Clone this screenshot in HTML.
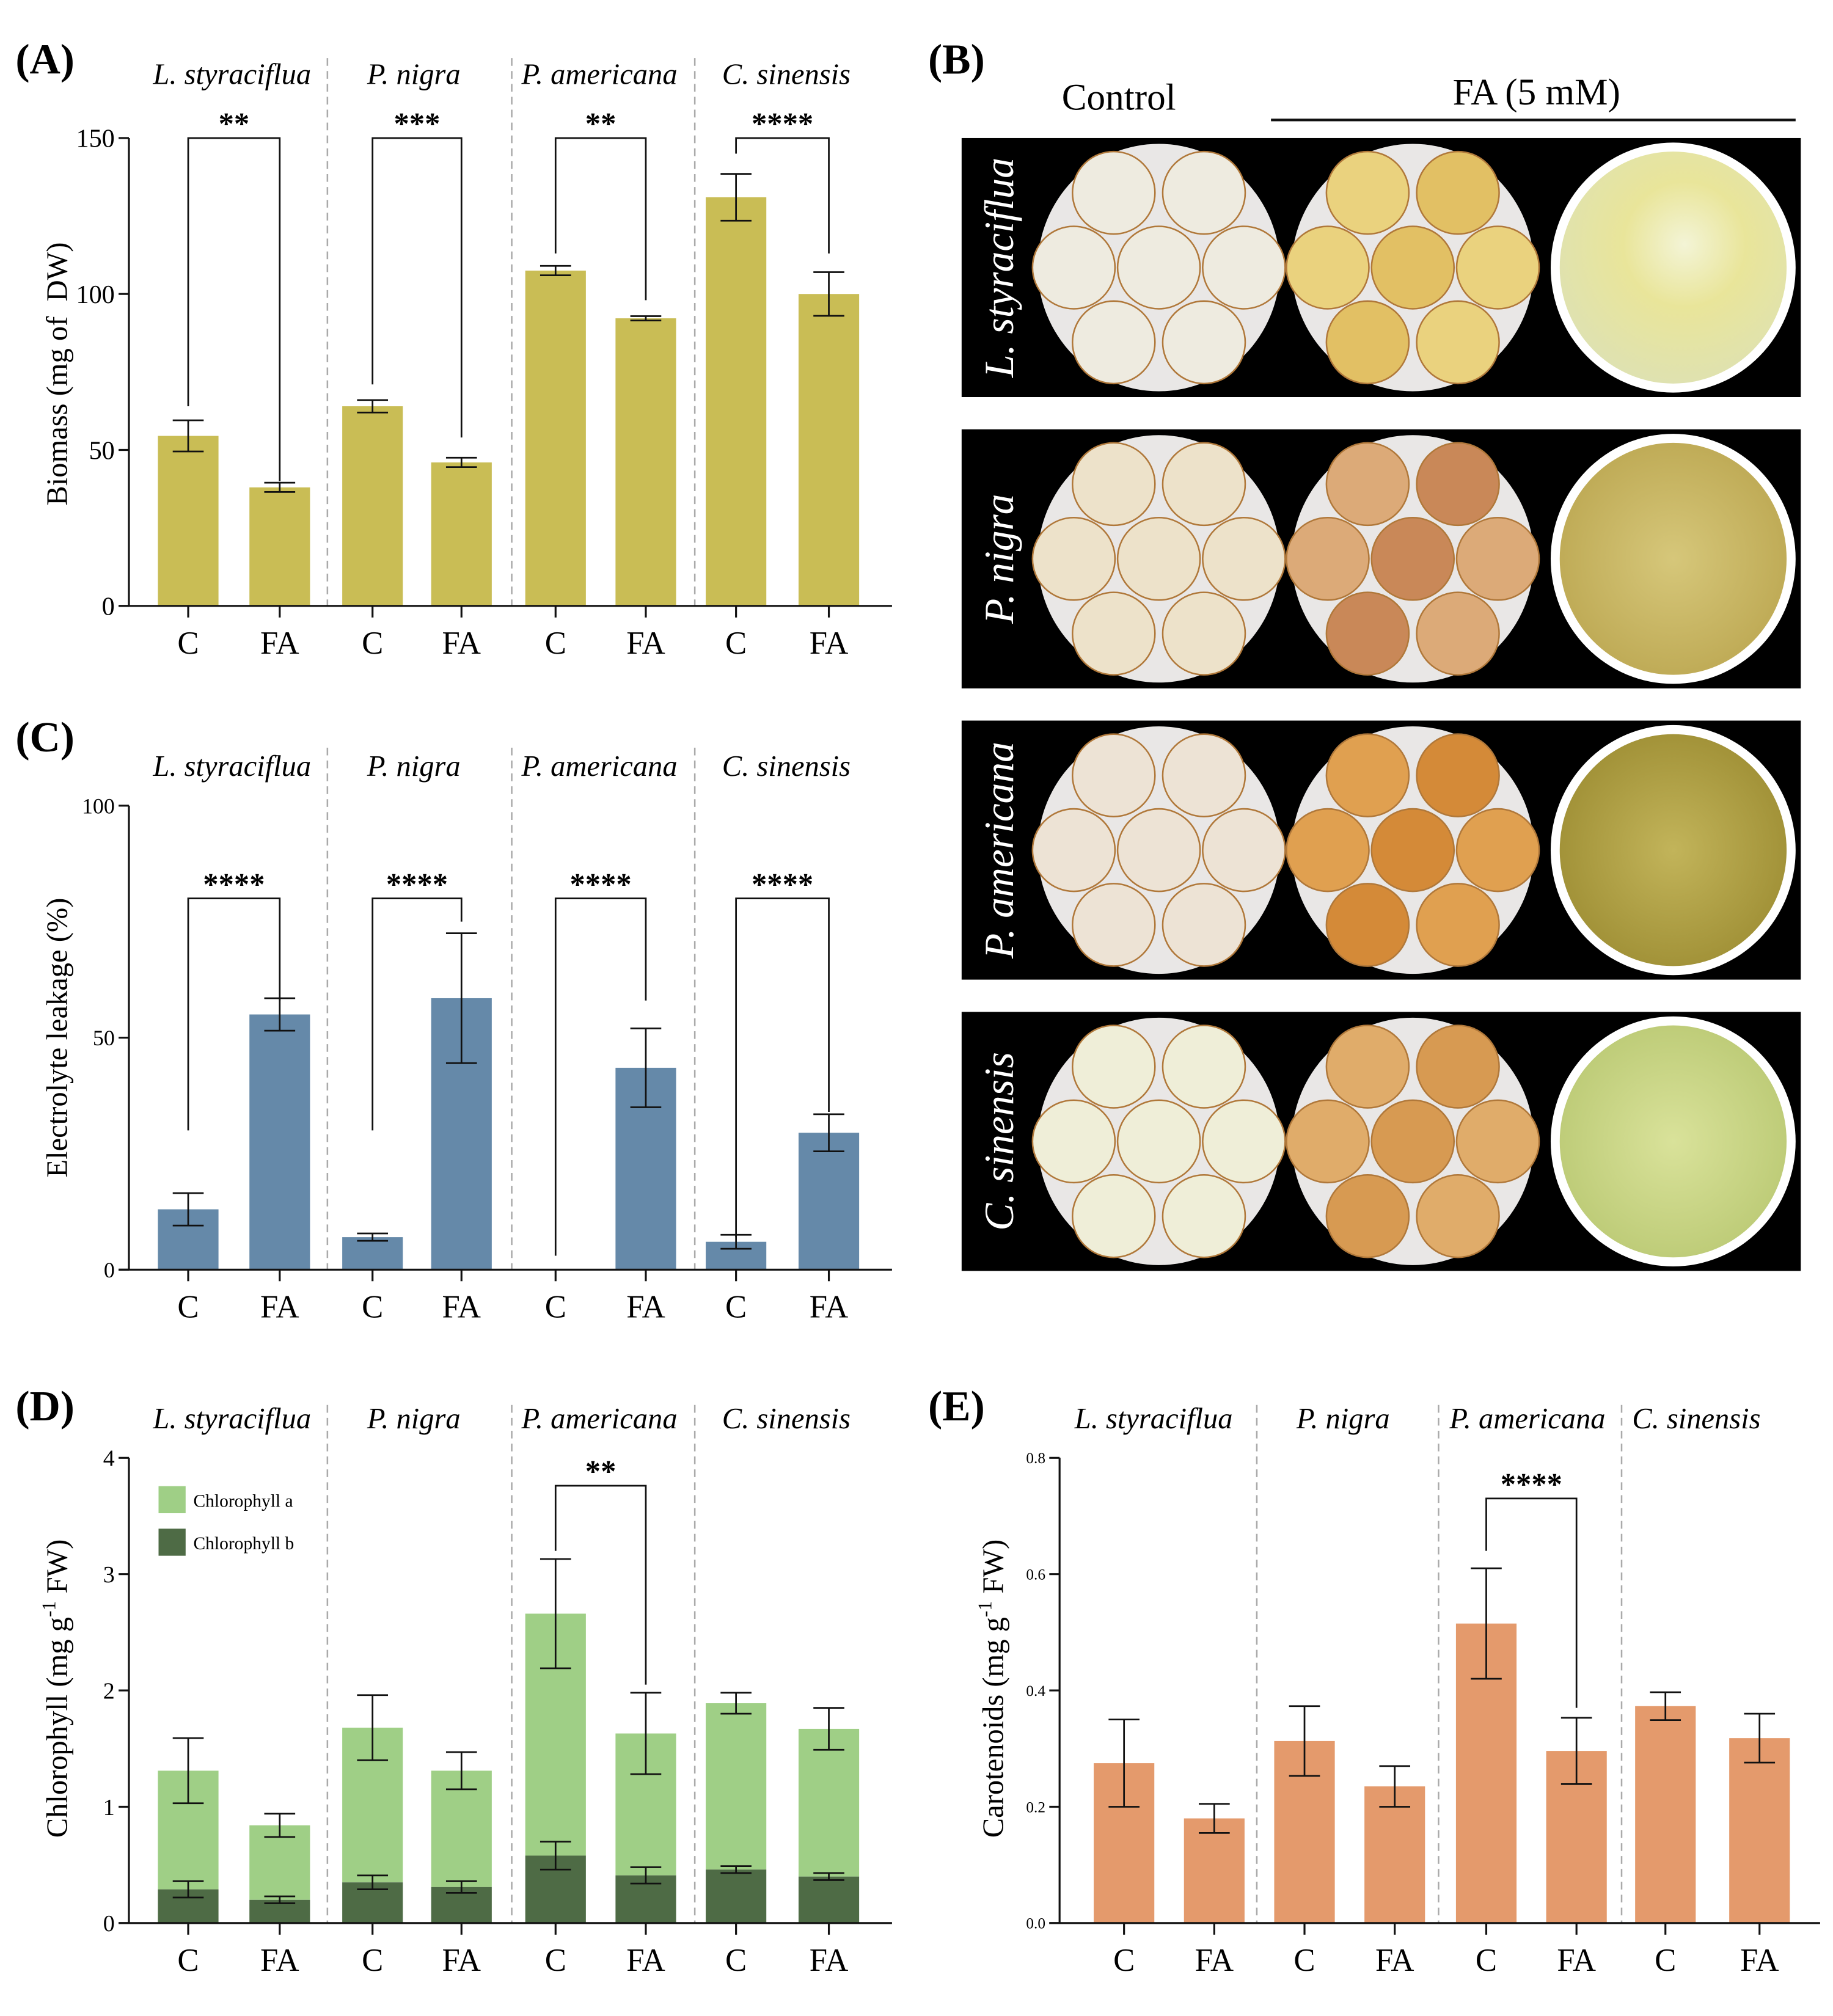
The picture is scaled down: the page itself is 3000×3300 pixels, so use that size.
<!DOCTYPE html>
<html><head><meta charset="utf-8"><style>
html,body{margin:0;padding:0;background:#fff}
svg{display:block}
text{font-family:"Liberation Serif",serif}
</style></head><body>
<svg id="fig" width="3000" height="3300" viewBox="0 0 1422 1564" xmlns="http://www.w3.org/2000/svg">
<defs>
<radialGradient id="leaf1" cx="0.55" cy="0.4" r="0.6"><stop offset="0" stop-color="#f3f4d6"/><stop offset="0.45" stop-color="#e9e59a"/><stop offset="1" stop-color="#dfe2b0"/></radialGradient>
<radialGradient id="leaf2" cx="0.5" cy="0.5" r="0.6"><stop offset="0" stop-color="#d6c77a"/><stop offset="1" stop-color="#bba650"/></radialGradient>
<radialGradient id="leaf3" cx="0.5" cy="0.5" r="0.6"><stop offset="0" stop-color="#c2b45a"/><stop offset="1" stop-color="#9c8c32"/></radialGradient>
<radialGradient id="leaf4" cx="0.5" cy="0.5" r="0.6"><stop offset="0" stop-color="#d9e29a"/><stop offset="1" stop-color="#b9c872"/></radialGradient>
</defs>
<g id="root"></g>
</svg>
<script>
const NS="http://www.w3.org/2000/svg";
const root=document.getElementById('root');
function mk(tag,attrs,parent,txt){const e=document.createElementNS(NS,tag);for(const k in attrs)e.setAttribute(k,attrs[k]);if(txt!==undefined)e.textContent=txt;(parent||root).appendChild(e);return e;}

// ---------- data ----------
const species=["L. styraciflua","P. nigra","P. americana","C. sinensis"];
const treatments=["C","FA","C","FA","C","FA","C","FA"];
const biomassVals=[54.5,38,64,46,107.5,92.2,131,100];
const biomassErr=[5,1.5,2,1.5,1.5,0.7,7.5,7];
const biomassTicks=[0,50,100,150];
const biomassStars=["**","***","**","****"];
const biomassLegs=[[64,40],[71,54],[113,98],[145,113]];
const leakVals=[13,55,7,58.5,0,43.5,6,29.5];
const leakErr=[3.5,3.5,0.8,14,0,8.5,1.5,4];
const leakTicks=[0,50,100];
const leakStars=["****","****","****","****"];
const leakLegs=[[30,58],[30,75],[3,58],[7,34]];
const chlTotal=[1.31,0.84,1.68,1.31,2.66,1.63,1.89,1.67];
const chlTotalErr=[0.28,0.1,0.28,0.16,0.47,0.35,0.09,0.18];
const chlB=[0.29,0.2,0.35,0.31,0.58,0.41,0.46,0.4];
const chlBErr=[0.07,0.03,0.06,0.05,0.12,0.07,0.03,0.03];
const chlTicks=[0,1,2,3,4];
const carVals=[0.275,0.18,0.313,0.235,0.515,0.296,0.373,0.318];
const carErr=[0.075,0.025,0.06,0.035,0.095,0.057,0.024,0.042];
const carTicks=["0.0","0.2","0.4","0.6","0.8"];

function panel(o){
  const g=mk('g',{});
  
  
  const X0=o.x0, X1=o.x1, top=o.top, zero=o.zero, max=o.max;
  const y=v=>zero-v/max*(zero-top);
  const slot=(X1-X0)/8.4;
  const cx=i=>X0+slot*(0.65+i)+ (i>=2?0:0);
  const centers=o.centers;
  // dividers
  o.divs.forEach((dx,i)=>{const l=mk('line',{x1:dx,x2:dx,y1:o.divTop,y2:zero,stroke:'#aaa','stroke-width':1.2,'stroke-dasharray':'6,4'},g);
    });
  // species labels
  species.forEach((s,i)=>{const t=mk('text',{x:o.spX[i],y:o.spY,'font-size':23,'font-style':'italic','text-anchor':'middle'},g,s);
    });
  // bars
  o.series.forEach(se=>{
    se.vals.forEach((v,i)=>{
      const base=se.base?se.base[i]:0;
      const r=mk('rect',{x:centers[i]-o.bw/2,y:y(v),width:o.bw,height:Math.max(0,y(base)-y(v)),fill:se.color},g);
      
    });
  });
  o.series.forEach(se=>{
    se.vals.forEach((v,i)=>{
      const e=se.err[i]; if(!e)return;
      const c=centers[i];
      const eg=mk('g',{stroke:'#111','stroke-width':1.3},g);
      
      mk('line',{x1:c,x2:c,y1:y(v+e),y2:y(v-e)},eg);
      mk('line',{x1:c-12,x2:c+12,y1:y(v+e),y2:y(v+e)},eg);
      mk('line',{x1:c-12,x2:c+12,y1:y(v-e),y2:y(v-e)},eg);
    });
  });
  // axes
  const ax=mk('g',{stroke:'#111','stroke-width':1.5},g);
  
  mk('line',{x1:X0,x2:X0,y1:top,y2:zero},ax);
  mk('line',{x1:X0-8,x2:X1,y1:zero,y2:zero},ax);
  o.ticks.forEach(t=>{const v=parseFloat(t);mk('line',{x1:X0-8,x2:X0,y1:y(v),y2:y(v)},ax);
    const tl=mk('text',{x:X0-11,y:y(v)+o.tickFs*0.35,'font-size':o.tickFs,'text-anchor':'end',stroke:'none'},g,t);
    });
  centers.forEach((c,i)=>{mk('line',{x1:c,x2:c,y1:zero,y2:zero+9},ax);
    const tl=mk('text',{x:c,y:zero+37,'font-size':25,'text-anchor':'middle'},g,treatments[i]);
    });
  // y title
  const yt=mk('text',{x:0,y:0,'font-size':23,'text-anchor':'middle',transform:`translate(${o.ytX},${o.ytY}) rotate(-90)`},g);
  yt.innerHTML=o.ytitle;
  
  // brackets
  (o.brackets||[]).forEach(b=>{
    const a=centers[b.i],c2=centers[b.i+1],by=y(b.top);
    const bg=mk('g',{},g);
    
    mk('polyline',{points:`${a},${y(b.l)} ${a},${by} ${c2},${by} ${c2},${y(b.r)}`,fill:'none',stroke:'#111','stroke-width':1.3},bg);
    mk('text',{x:(a+c2)/2,y:by-3,'font-size':24,'font-weight':'bold','text-anchor':'middle','font-family':'Liberation Sans, sans-serif'},bg,b.s);
  });
  // panel letter
  const pl=mk('text',{x:o.lx,y:o.ly,'font-size':33,'font-weight':'bold'},g,o.letter);
  
  return g;
}
const ctrA=[146,217,289,358,431,501,571,643];
const ctrE=[872,942,1012,1082,1153,1223,1292,1365];
const spA=[180,321,465,610], spE=[895,1042,1185,1316];

panel({name:'panel-a-biomass',x0:100,x1:692,top:107,zero:470,max:150,centers:ctrA,bw:47,divs:[254,397,539],divTop:45,
  spX:spA,spY:65,ticks:biomassTicks.map(String),tickFs:20,ytX:52,ytY:290,ytitle:'Biomass (mg of&#160; DW)',
  series:[{vals:biomassVals,err:biomassErr,color:'#c9bd55',barName:'biomass-bar'}],
  brackets:biomassStars.map((s,k)=>({i:2*k,top:150,l:biomassLegs[k][0],r:biomassLegs[k][1],s})),letter:'(A)',lx:12,ly:57});

panel({name:'panel-c-electrolyte-leakage',x0:100,x1:692,top:625,zero:985,max:100,centers:ctrA,bw:47,divs:[254,397,539],divTop:580,
  spX:spA,spY:602,ticks:leakTicks.map(String),tickFs:17,ytX:52,ytY:805,ytitle:'Electrolyte leakage (%)',
  series:[{vals:leakVals,err:leakErr,color:'#6589a9',barName:'leakage-bar'}],
  brackets:leakStars.map((s,k)=>({i:2*k,top:80,l:leakLegs[k][0],r:leakLegs[k][1],s})),letter:'(C)',lx:12,ly:583});

panel({name:'panel-d-chlorophyll',x0:100,x1:692,top:1131,zero:1492,max:4,centers:ctrA,bw:47,divs:[254,397,539],divTop:1090,
  spX:spA,spY:1108,ticks:chlTicks.map(String),tickFs:18,ytX:52,ytY:1310,ytitle:'Chlorophyll (mg g<tspan dy="-9" font-size="15">-1</tspan><tspan dy="9"> FW)</tspan>',
  series:[{vals:chlTotal,err:chlTotalErr,base:chlB,color:'#9fcf86',barName:'chlorophyll-a-bar'},{vals:chlB,err:chlBErr,color:'#4e6b45',barName:'chlorophyll-b-bar'}],
  brackets:[{i:4,top:3.76,l:3.2,r:2.05,s:'**'}],letter:'(D)',lx:12,ly:1102});

panel({name:'panel-e-carotenoids',x0:822,x1:1412,top:1131,zero:1492,max:0.8,centers:ctrE,bw:47,divs:[975,1116,1258],divTop:1090,
  spX:spE,spY:1108,ticks:carTicks,tickFs:12,ytX:778,ytY:1310,ytitle:'Carotenoids (mg g<tspan dy="-9" font-size="15">-1</tspan><tspan dy="9"> FW)</tspan>',
  series:[{vals:carVals,err:carErr,color:'#e49a6c',barName:'carotenoid-bar'}],
  brackets:[{i:4,top:0.73,l:0.64,r:0.37,s:'****'}],letter:'(E)',lx:720,ly:1102});

// legend D
const lg=mk('g',{});

mk('rect',{x:123,y:1153,width:21,height:21,fill:'#9fcf86'},lg);
mk('text',{x:150,y:1169,'font-size':14},lg,'Chlorophyll a');
mk('rect',{x:123,y:1186,width:21,height:21,fill:'#4e6b45'},lg);
mk('text',{x:150,y:1202,'font-size':14},lg,'Chlorophyll b');

// ---------- panel B photos ----------
const pb=mk('g',{});

mk('text',{x:720,y:57,'font-size':33,'font-weight':'bold'},pb,'(B)');
mk('text',{x:868,y:85,'font-size':29,'text-anchor':'middle','font-family':'Liberation Sans, sans-serif'},pb,'Control');
mk('text',{x:1192,y:81,'font-size':29,'text-anchor':'middle','font-family':'Liberation Sans, sans-serif'},pb,'FA (5 mM)');
mk('line',{x1:986,x2:1393,y1:93,y2:93,stroke:'#111','stroke-width':2},pb);
const rowsY=[107,333,559,785];
const ctrlCol=['#eeebe0','#ede2ca','#ede3d5','#efeed8'];
const faCol=[['#ead27e','#e2c064'],['#dcaa78','#c98858'],['#e0a050','#d48a38'],['#e0ac6a','#d79a52']];
const leafG=['url(#leaf1)','url(#leaf2)','url(#leaf3)','url(#leaf4)'];
const diskPos=[[-35,-58],[35,-58],[-66,0],[0,0],[66,0],[-35,58],[35,58]];
rowsY.forEach((ry,r)=>{
  const row=mk('g',{},pb);
  
  mk('rect',{x:746,y:ry,width:651,height:201,fill:'#000'},row);
  const cy=ry+100.5;
  const lab=mk('text',{x:0,y:0,'font-size':32,'font-style':'italic',fill:'#fff','text-anchor':'middle',transform:`translate(786,${cy}) rotate(-90)`},row,species[r]);
  
  [[899,0],[1096,1]].forEach(([px,t])=>{
    mk('ellipse',{cx:px,cy:cy,rx:94,ry:96,fill:'#e9e7e6'},row);
    diskPos.forEach(([dx,dy],k)=>{
      const f=t===0?ctrlCol[r]:faCol[r][k%2];
      mk('circle',{cx:px+dx,cy:cy+dy,r:32,fill:f,stroke:'#b0783a','stroke-width':1.2},row);
    });
  });
  mk('ellipse',{cx:1298,cy:cy,rx:95,ry:97,fill:'#fff'},row);
  mk('ellipse',{cx:1298,cy:cy,rx:88,ry:90,fill:leafG[r]},row);
});
</script>
</body></html>
